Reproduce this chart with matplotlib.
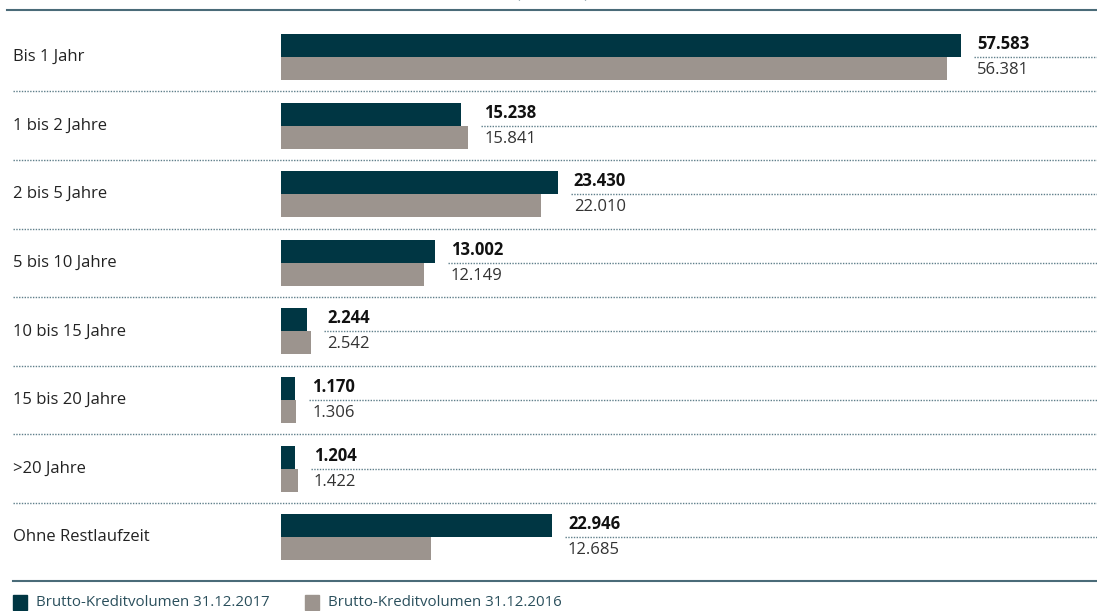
import numpy as np
import matplotlib
matplotlib.use('Agg')
import matplotlib.pyplot as plt
import matplotlib.transforms as mtransforms
from matplotlib.patches import Rectangle

plt.rcParams['font.family'] = ['Open Sans', 'DejaVu Sans']

# Restlaufzeit categories and gross credit volume (Mio. EUR)
categories = ['Bis 1 Jahr', '1 bis 2 Jahre', '2 bis 5 Jahre', '5 bis 10 Jahre',
              '10 bis 15 Jahre', '15 bis 20 Jahre', '>20 Jahre', 'Ohne Restlaufzeit']
vol_2017 = [57583, 15238, 23430, 13002, 2244, 1170, 1204, 22946]
vol_2016 = [56381, 15841, 22010, 12149, 2542, 1306, 1422, 12685]
legend_labels = ['Brutto-Kreditvolumen 31.12.2017', 'Brutto-Kreditvolumen 31.12.2016']

c_dark = '#003643'
c_gray = '#9c948e'
c_line = '#5f7f8a'

W, H = 1097, 611
fig = plt.figure(figsize=(W / 100, H / 100), dpi=100)
ax = fig.add_axes([0, 0, 1, 1])
ax.set_axis_off()

# x in data units, bars start at pixel 281; y in pixel units (top down)
px_per_unit = 680 / 57583
x0 = 281
ax.set_xlim(-x0 / px_per_unit, (W - x0) / px_per_unit)
ax.set_ylim(H, 0)
fig_x = mtransforms.blended_transform_factory(fig.transFigure, ax.transData)

row_gap = 68.6
centers = 57 + row_gap * np.arange(len(categories))
bar_h = 23

ax.barh(centers - bar_h / 2, vol_2017, height=bar_h, color=c_dark)
ax.barh(centers + bar_h / 2, vol_2016, height=bar_h, color=c_gray)

for i, cat in enumerate(categories):
    y = centers[i]
    ax.text(13 / W, y + 4, cat, transform=fig_x, fontsize=12, color='#222222',
            ha='left', va='baseline')
    end = max(vol_2017[i], vol_2016[i]) + 16 / px_per_unit
    fmt17 = f'{vol_2017[i]:,}'.replace(',', '.')
    fmt16 = f'{vol_2016[i]:,}'.replace(',', '.')
    ax.text(end, y - 8, fmt17, fontsize=12, fontweight='bold', color='#111111',
            ha='left', va='baseline')
    ax.text(end, y + 17, fmt16, fontsize=12, color='#333333',
            ha='left', va='baseline')
    ax.plot([end - 3 / px_per_unit, ax.get_xlim()[1]], [y, y], color=c_line,
            lw=1, ls=(0, (1, 1)))
    if i < len(categories) - 1:
        ys = y + row_gap / 2
        ax.plot([13 / W, 1], [ys, ys], transform=fig_x, color=c_line,
                lw=1, ls=(0, (1, 1)))

# top and bottom rules
ax.plot([7 / W, 1], [10, 10], transform=fig_x, color='#4a6b78', lw=1.5)
ax.plot([13 / W, 1], [581, 581], transform=fig_x, color='#4a6b78', lw=1.5)
ax.text(552 / W, -7, '(in Mio. €)', transform=fig_x, fontsize=11.5,
        color='#4a6b78', ha='center', va='center')

# legend
for lx, col, lab in [(13, c_dark, legend_labels[0]), (305, c_gray, legend_labels[1])]:
    ax.add_patch(Rectangle((lx / W, 595), 14 / W, 15, transform=fig_x,
                           color=col, clip_on=False))
    ax.text((lx + 23) / W, 603, lab, transform=fig_x, fontsize=10.8,
            color='#2a4f5c', ha='left', va='center')

fig.savefig('out.png', dpi=100)
